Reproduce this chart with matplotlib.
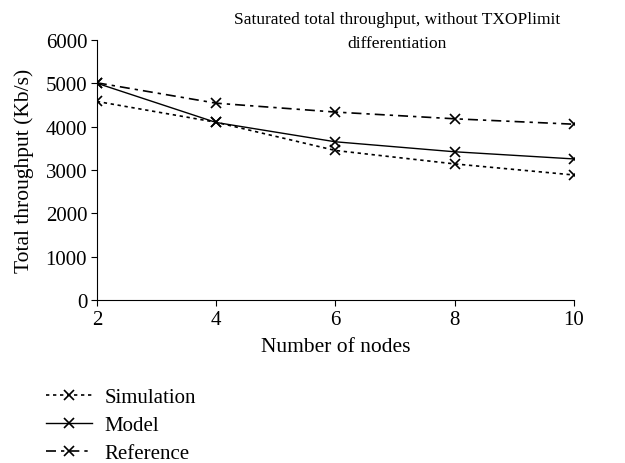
import matplotlib
matplotlib.use("Agg")
import matplotlib.pyplot as plt

plt.rcParams['font.family'] = ['Liberation Serif', 'DejaVu Serif']

# data
nodes = [2, 4, 6, 8, 10]
simulation = [4580, 4100, 3450, 3140, 2885]
model = [5000, 4095, 3650, 3420, 3255]
reference = [5010, 4540, 4335, 4180, 4055]

fig = plt.figure(figsize=(6.25, 4.64), dpi=100)
ax = fig.add_axes([0.155, 0.351, 0.763, 0.561])

ax.plot(nodes, simulation, color='black', lw=1.2, ls=(0, (2, 2.2)),
        marker='x', ms=7, mew=1.2, label='Simulation')
ax.plot(nodes, model, color='black', lw=1.0, ls='-',
        marker='x', ms=7, mew=1.2, label='Model')
ax.plot(nodes, reference, color='black', lw=1.2, ls=(0, (6, 3, 2, 3)),
        marker='x', ms=7, mew=1.2, label='Reference')

ax.set_xlim(2, 10)
ax.set_ylim(0, 6000)
ax.set_xticks([2, 4, 6, 8, 10])
ax.set_yticks([0, 1000, 2000, 3000, 4000, 5000, 6000])
ax.spines['top'].set_visible(False)
ax.spines['right'].set_visible(False)
ax.tick_params(direction='out', length=4, labelsize=15, pad=3)
ax.set_xlabel('Number of nodes', fontsize=15.5, labelpad=6)
ax.set_ylabel('Total throughput (Kb/s)', fontsize=15.5, labelpad=8)

fig.text(397 / 625, 1 - 32 / 464,
         'Saturated total throughput, without TXOPlimit\ndifferentiation',
         ha='center', va='center', fontsize=12.5, linespacing=1.6)

ax.legend(loc='upper left', bbox_to_anchor=(-0.145, -0.265), frameon=False,
          fontsize=15, handlelength=2.2, handletextpad=0.6, labelspacing=0.4)

fig.savefig('out.png', dpi=100)
